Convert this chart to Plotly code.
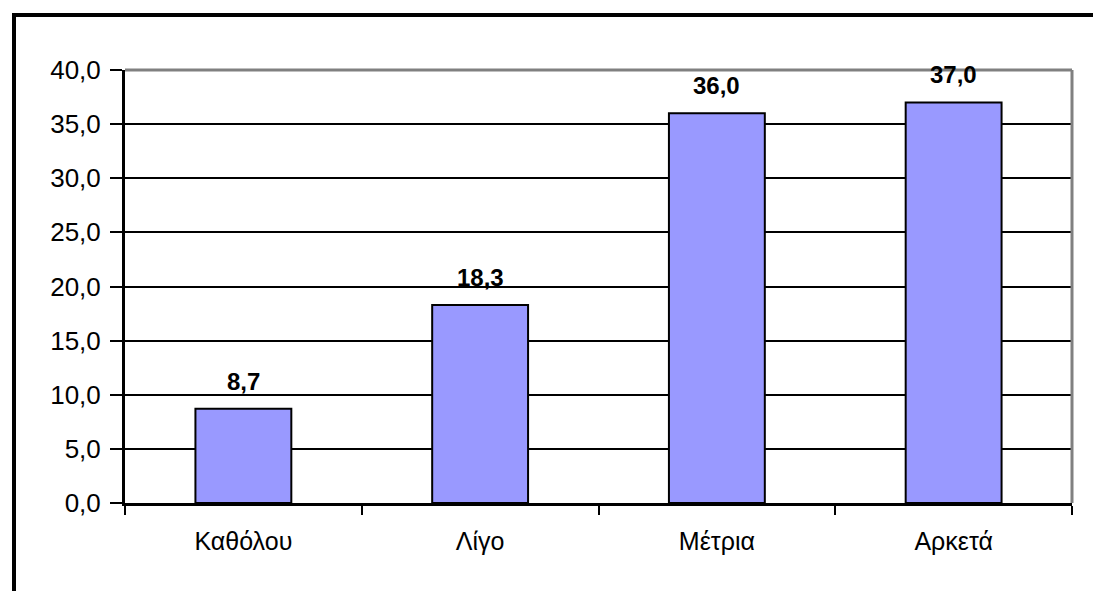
import plotly.graph_objects as go

categories = ["Καθόλου", "Λίγο", "Μέτρια", "Αρκετά"]
values = [8.7, 18.3, 36.0, 37.0]
y_ticks = [0, 5, 10, 15, 20, 25, 30, 35, 40]

W, H = 1093, 591
L, R, T, B = 125, 21, 70, 88
pw, ph = W - L - R, H - T - B

fig = go.Figure()
fig.add_trace(go.Bar(
    x=categories, y=values,
    marker=dict(color="#9999FF", line=dict(color="black", width=2)),
    width=0.405,
    hoverinfo="skip",
))

for c, v in zip(categories, values):
    fig.add_annotation(
        x=c, y=v, text=f"<b>{v:.1f}</b>".replace(".", ","),
        showarrow=False, yanchor="bottom", yshift=12,
        font=dict(family="Liberation Sans, Arial", size=24, color="black"),
    )

# gray plot border (top & right)
fig.add_shape(type="line", xref="paper", yref="paper", x0=0, x1=1, y0=1, y1=1,
              line=dict(color="#808080", width=3), layer="above")
fig.add_shape(type="line", xref="paper", yref="paper", x0=1, x1=1, y0=0, y1=1,
              line=dict(color="#808080", width=3), layer="above")

# outer chart border (extends beyond image right/bottom)
fig.add_shape(type="rect", xref="paper", yref="paper",
              x0=(14 - L) / pw, x1=(W + 20 - L) / pw,
              y0=-(H + 20 - (H - B)) / ph, y1=1 + (T - 15) / ph,
              line=dict(color="black", width=4), fillcolor="rgba(0,0,0,0)", layer="above")

fig.update_layout(
    width=W, height=H,
    margin=dict(l=L, r=R, t=T, b=B),
    paper_bgcolor="white", plot_bgcolor="white",
    separators=",.",
    showlegend=False,
    font=dict(family="Liberation Sans, Arial", size=25, color="black"),
    xaxis=dict(
        showline=True, linecolor="black", linewidth=3,
        ticks="outside", tickson="boundaries", ticklen=9, tickwidth=2, tickcolor="black",
        showgrid=False, tickfont=dict(size=25), ticklabelstandoff=14,
        range=[-0.5, 3.5],
    ),
    yaxis=dict(
        range=[0, 40], tickvals=y_ticks, tickformat=".1f",
        showline=True, linecolor="black", linewidth=3,
        ticks="outside", ticklen=12, tickwidth=2, tickcolor="black",
        showgrid=True, gridcolor="black", gridwidth=2,
        zeroline=False, tickfont=dict(size=26), ticklabelstandoff=4,
    ),
)

fig.write_html("out.html")
